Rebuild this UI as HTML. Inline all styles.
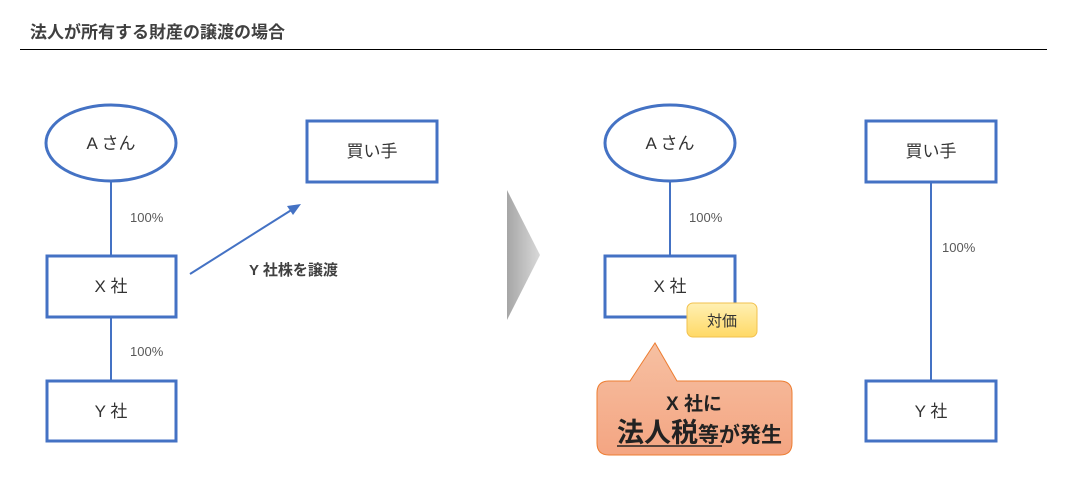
<!DOCTYPE html>
<html><head><meta charset="utf-8"><style>
html,body{margin:0;padding:0;background:#fff;}
svg{display:block;font-family:"Liberation Sans","Noto Sans CJK JP",sans-serif;}
</style></head><body>
<svg width="1078" height="495" viewBox="0 0 1078 495" xmlns="http://www.w3.org/2000/svg">
<defs>
<linearGradient id="tri" x1="0" x2="1" y1="0" y2="0"><stop offset="0" stop-color="#a6a6a6"/><stop offset="1" stop-color="#d9d9d9"/></linearGradient>
<linearGradient id="yel" x1="0" x2="0" y1="0" y2="1"><stop offset="0" stop-color="#fff0b3"/><stop offset="1" stop-color="#ffd966"/></linearGradient>
<linearGradient id="org" x1="0" x2="0" y1="0" y2="1"><stop offset="0" stop-color="#f6c0a2"/><stop offset="1" stop-color="#f4a582"/></linearGradient>
</defs>
<text x="30" y="38" font-size="17" font-weight="bold" fill="#404040">法人が所有する財産の譲渡の場合</text>
<line x1="20" y1="49.5" x2="1047" y2="49.5" stroke="#000" stroke-width="1"/>
<g stroke="#4472c4" stroke-width="3" fill="#fff">
<line x1="111" y1="181" x2="111" y2="256" stroke-width="2"/>
<line x1="111" y1="317" x2="111" y2="381" stroke-width="2"/>
<line x1="670" y1="181" x2="670" y2="256" stroke-width="2"/>
<line x1="931" y1="182" x2="931" y2="381" stroke-width="2"/>
<ellipse cx="111" cy="143" rx="65" ry="38"/>
<rect x="47" y="256" width="129" height="61"/>
<rect x="47" y="381" width="129" height="60"/>
<rect x="307" y="121" width="130" height="61"/>
<ellipse cx="670" cy="143" rx="65" ry="38"/>
<rect x="605" y="256" width="130" height="61"/>
<rect x="866" y="121" width="130" height="61"/>
<rect x="866" y="381" width="130" height="60"/>
</g>
<line x1="190" y1="274" x2="293" y2="209" stroke="#4472c4" stroke-width="2"/>
<polygon points="301,204 287,206 293,215" fill="#4472c4"/>
<polygon points="507,190 540,255 507,320" fill="url(#tri)"/>
<rect x="687" y="303" width="70" height="34" rx="6" fill="url(#yel)" stroke="#f2c14e" stroke-width="1"/>
<path d="M609,381 L630,381 L655,343 L677,381 L780,381 Q792,381 792,393 L792,443 Q792,455 780,455 L609,455 Q597,455 597,443 L597,393 Q597,381 609,381 Z" fill="url(#org)" stroke="#ed7d31" stroke-width="1"/>
<g fill="#333" font-size="17" text-anchor="middle">
<text x="111" y="149">A さん</text>
<text x="111" y="292">X 社</text>
<text x="111" y="417">Y 社</text>
<text x="372" y="157">買い手</text>
<text x="670" y="149">A さん</text>
<text x="670" y="292">X 社</text>
<text x="931" y="157">買い手</text>
<text x="931" y="417">Y 社</text>
<text x="722" y="326" font-size="15">対価</text>
</g>
<g fill="#595959" font-size="13">
<text x="130" y="222">100%</text>
<text x="130" y="356">100%</text>
<text x="689" y="222">100%</text>
<text x="942" y="252">100%</text>
</g>
<text x="249" y="275" font-size="15" font-weight="bold" fill="#404040">Y 社株を譲渡</text>
<text x="694" y="410" font-size="19" font-weight="bold" fill="#222" text-anchor="middle">X 社に</text>
<text x="617" y="442" fill="#222" font-weight="bold"><tspan font-size="27">法人税</tspan><tspan font-size="21">等が発生</tspan></text>
<line x1="617" y1="446" x2="722" y2="446" stroke="#222" stroke-width="1.5"/>
</svg>
</body></html>
